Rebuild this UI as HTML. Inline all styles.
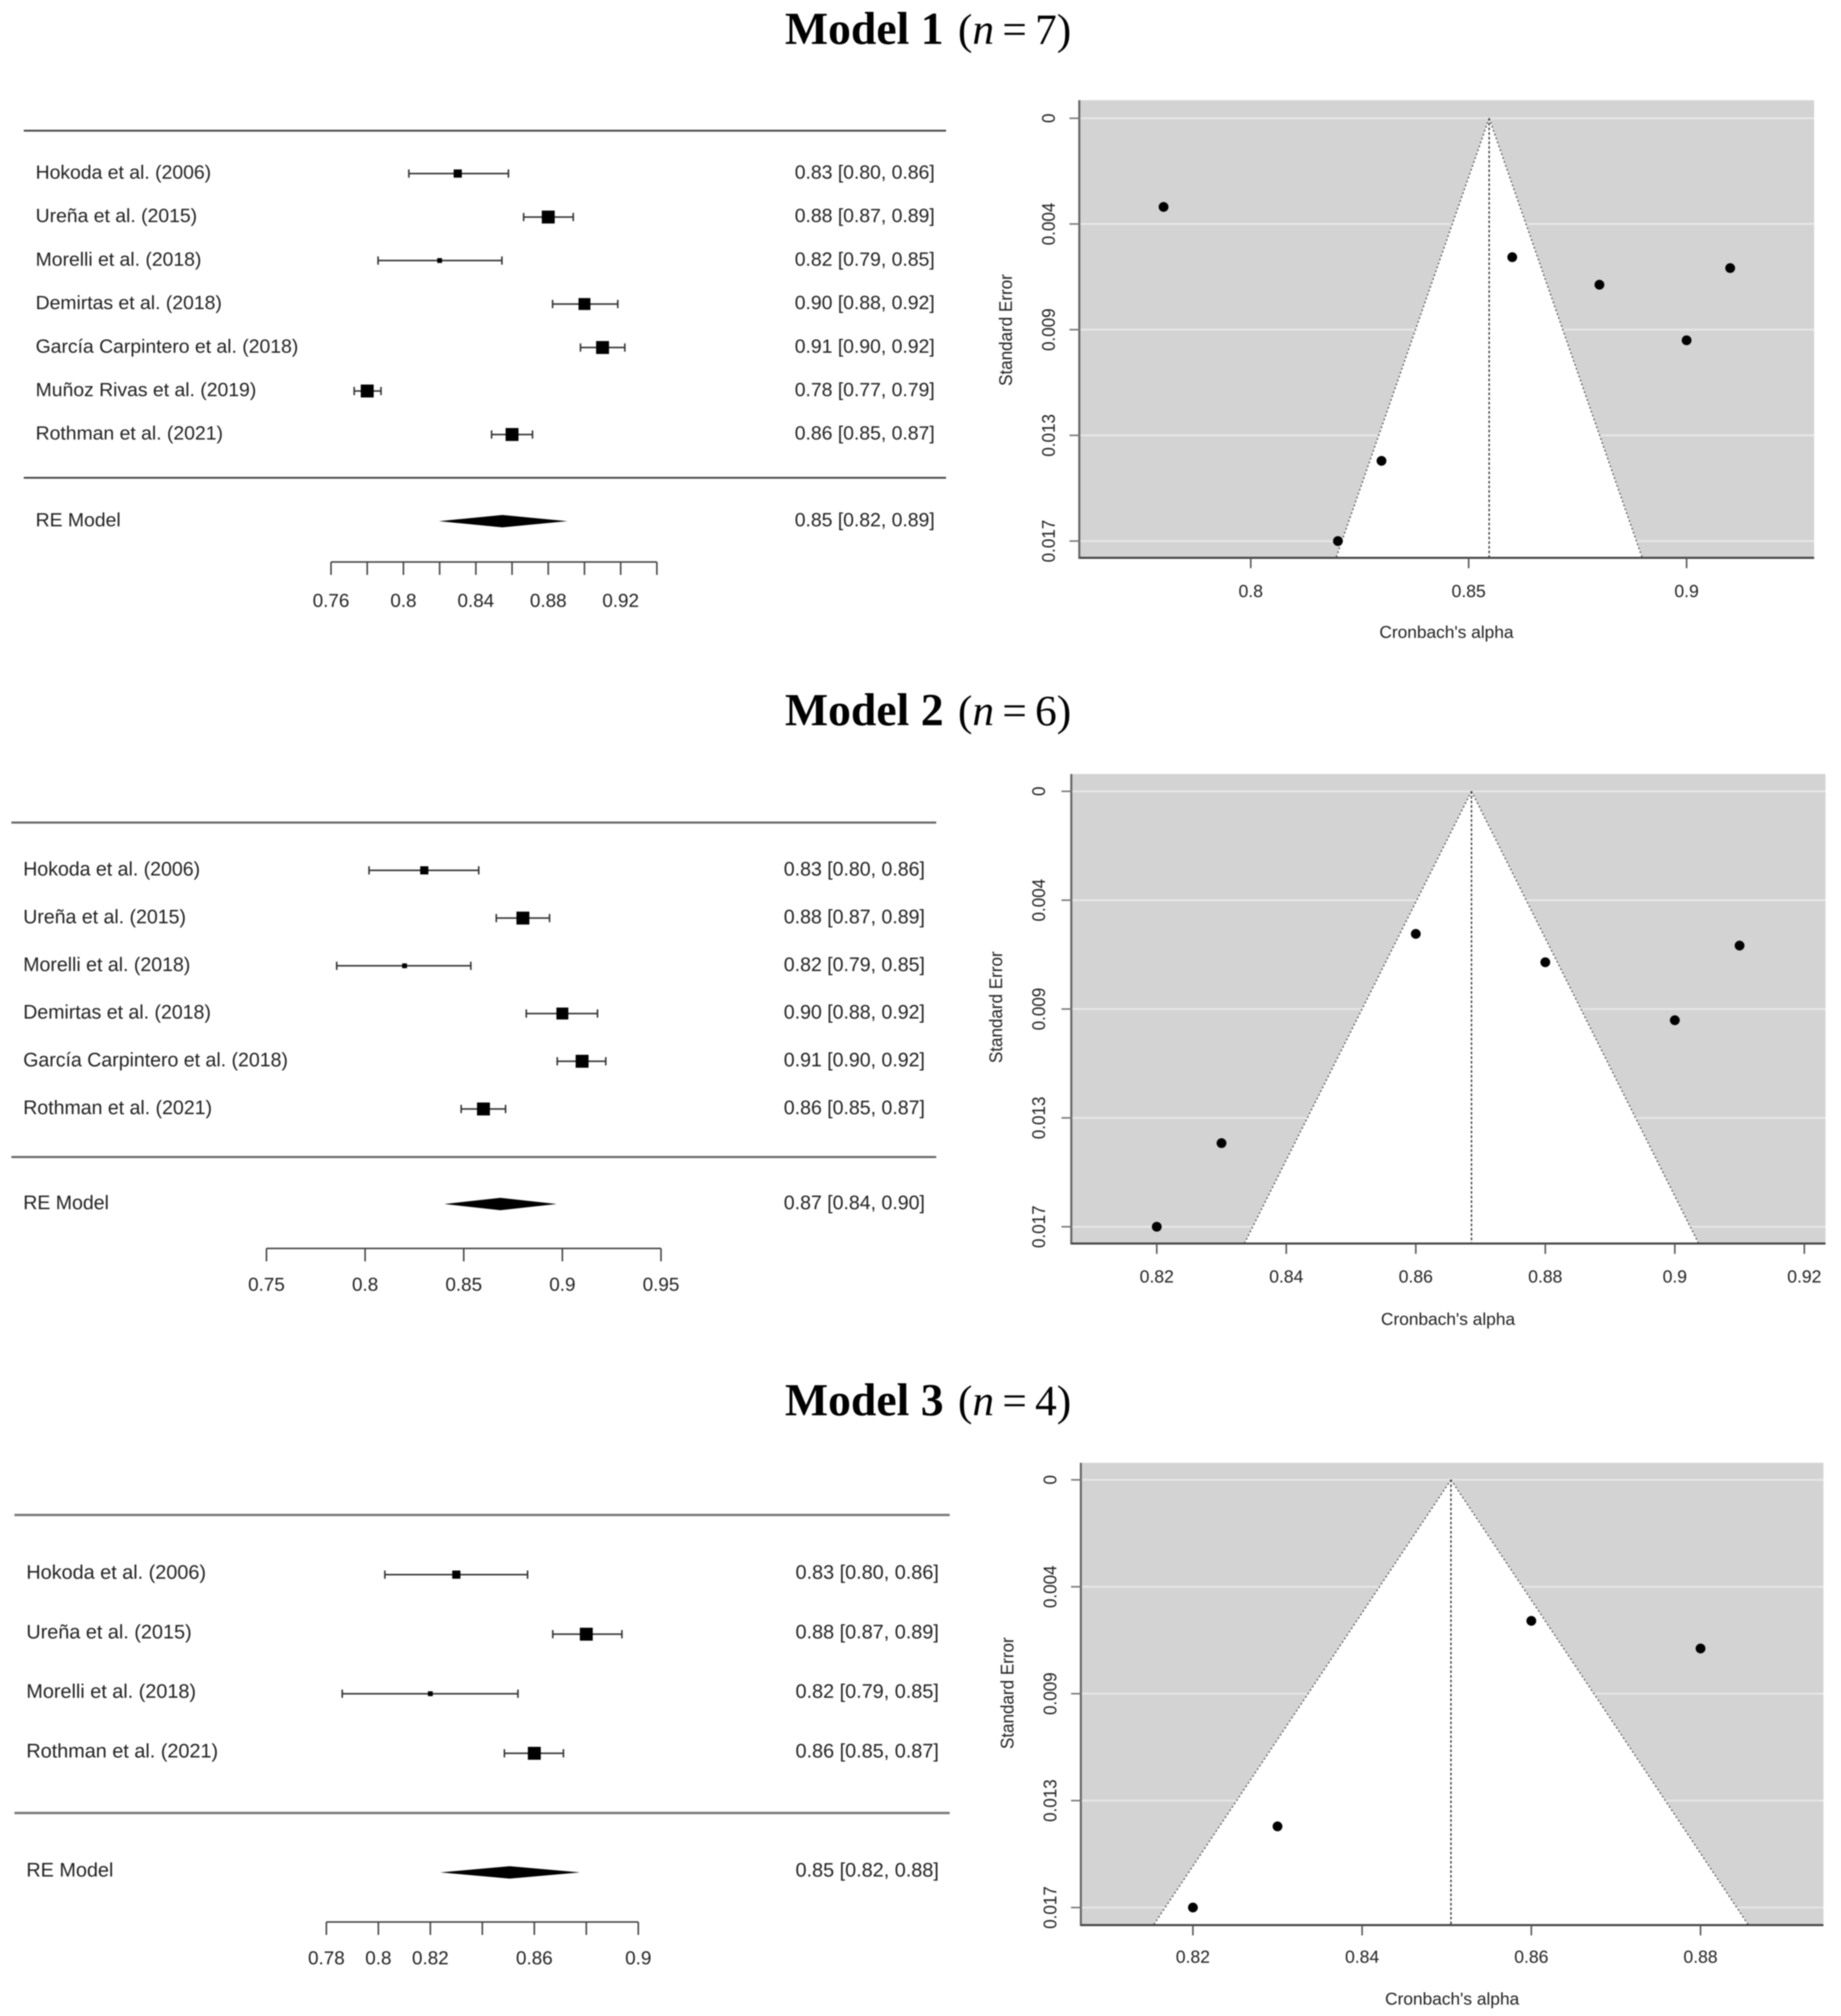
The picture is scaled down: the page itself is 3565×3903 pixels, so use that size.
<!DOCTYPE html>
<html lang="en">
<head>
<meta charset="utf-8">
<title>Forest and funnel plots for Models 1 to 3</title>
<style>
  html, body { margin: 0; padding: 0; background: #fff; }
  #figure { display: block; width: 3565px; height: 3903px; filter: blur(1px); }
  text { font-family: "Liberation Sans", sans-serif; fill: #222; }
  .model-title { font-family: "Liberation Serif", serif; fill: #000; font-size: 84px; word-spacing: -5px; }
  .model-title .bold { font-weight: bold; font-size: 88.5px; word-spacing: 0; }
  .model-title .ital { font-style: italic; }
</style>
</head>
<body>
<svg id="figure" xmlns="http://www.w3.org/2000/svg" width="3565" height="3903" viewBox="0 0 3565 3903">
  <rect x="0" y="0" width="3565" height="3903" fill="#fff"></rect>
  <text class="model-title" x="1520" y="85"><tspan class="bold">Model 1</tspan><tspan x="1855">(</tspan><tspan class="ital">n</tspan> = 7)</text>
  <text class="model-title" x="1520" y="1404"><tspan class="bold">Model 2</tspan><tspan x="1855">(</tspan><tspan class="ital">n</tspan> = 6)</text>
  <text class="model-title" x="1520" y="2740"><tspan class="bold">Model 3</tspan><tspan x="1855">(</tspan><tspan class="ital">n</tspan> = 4)</text>
</svg>
<script>
/* ---------- Model 1 data ---------- */
const m1Studies = ['Hokoda et al. (2006)', 'Ureña et al. (2015)', 'Morelli et al. (2018)', 'Demirtas et al. (2018)', 'García Carpintero et al. (2018)', 'Muñoz Rivas et al. (2019)', 'Rothman et al. (2021)'];
const m1Estimates = [0.83, 0.88, 0.82, 0.90, 0.91, 0.78, 0.86];
const m1Lower = [0.803, 0.8664, 0.786, 0.8824, 0.8978, 0.7728, 0.8487];
const m1Upper = [0.858, 0.8938, 0.8544, 0.9184, 0.9223, 0.7876, 0.8713];
const m1Weights = [40, 100, 14, 85, 100, 100, 100];
const m1StdErrors = [0.01418, 0.00689, 0.0175, 0.00919, 0.0062, 0.00367, 0.00575];
const m1Pooled = [0.8547, 0.8196, 0.8906];
const m1ForestTicks = [0.76, 0.78, 0.8, 0.82, 0.84, 0.86, 0.88, 0.9, 0.92, 0.94];
const m1ForestTickLabels = ['0.76', '', '0.8', '', '0.84', '', '0.88', '', '0.92', ''];
const m1FunnelXTicks = [0.8, 0.85, 0.9];
const m1FunnelXTickLabels = ['0.8', '0.85', '0.9'];

/* ---------- Model 2 data ---------- */
const m2Studies = ['Hokoda et al. (2006)', 'Ureña et al. (2015)', 'Morelli et al. (2018)', 'Demirtas et al. (2018)', 'García Carpintero et al. (2018)', 'Rothman et al. (2021)'];
const m2Estimates = [0.83, 0.88, 0.82, 0.90, 0.91, 0.86];
const m2Lower = [0.802, 0.8665, 0.7856, 0.8817, 0.8974, 0.8487];
const m2Upper = [0.8576, 0.8935, 0.8536, 0.9178, 0.922, 0.8712];
const m2Weights = [40, 100, 14, 85, 100, 100];
const m2StdErrors = [0.01414, 0.00687, 0.0175, 0.0092, 0.0062, 0.00573];
const m2Pooled = [0.8686, 0.8401, 0.8972];
const m2ForestTicks = [0.75, 0.8, 0.85, 0.9, 0.95];
const m2ForestTickLabels = ['0.75', '0.8', '0.85', '0.9', '0.95'];
const m2FunnelXTicks = [0.82, 0.84, 0.86, 0.88, 0.9, 0.92];
const m2FunnelXTickLabels = ['0.82', '0.84', '0.86', '0.88', '0.9', '0.92'];

/* ---------- Model 3 data ---------- */
const m3Studies = ['Hokoda et al. (2006)', 'Ureña et al. (2015)', 'Morelli et al. (2018)', 'Rothman et al. (2021)'];
const m3Estimates = [0.83, 0.88, 0.82, 0.86];
const m3Lower = [0.8025, 0.8671, 0.7861, 0.8485];
const m3Upper = [0.8574, 0.8937, 0.8537, 0.8712];
const m3Weights = [40, 100, 14, 100];
const m3StdErrors = [0.01418, 0.0069, 0.0175, 0.00577];
const m3Pooled = [0.8505, 0.8238, 0.8776];
const m3ForestTicks = [0.78, 0.8, 0.82, 0.84, 0.86, 0.88, 0.9];
const m3ForestTickLabels = ['0.78', '0.8', '0.82', '', '0.86', '', '0.9'];
const m3FunnelXTicks = [0.82, 0.84, 0.86, 0.88];
const m3FunnelXTickLabels = ['0.82', '0.84', '0.86', '0.88'];

/* ---------- shared funnel y axis ---------- */
const seTicks = [0, 0.004375, 0.00875, 0.013125, 0.0175];
const seTickLabels = ['0', '0.004', '0.009', '0.013', '0.017'];
const funnelZ = [1.93];

const NS = 'http://www.w3.org/2000/svg';
const root = document.getElementById('figure');

function make(tag, attrs, text) {
  const el = document.createElementNS(NS, tag);
  for (const k in attrs) el.setAttribute(k, attrs[k]);
  if (text !== undefined) el.textContent = text;
  root.appendChild(el);
  return el;
}

function drawForest(model, d, g) {
  const sx = v => g.x0 + (v - g.v0) / (g.v1 - g.v0) * (g.x1 - g.x0);
  const fmt = (e, l, u) => e.toFixed(2) + ' [' + l.toFixed(2) + ', ' + u.toFixed(2) + ']';

  const topRule = make('line', { x1: g.ruleL, x2: g.ruleR, y1: g.ruleTop, y2: g.ruleTop, stroke: g.ruleColor, 'stroke-width': g.ruleW });
  
  
  const bottomRule = make('line', { x1: g.ruleL, x2: g.ruleR, y1: g.ruleBottom, y2: g.ruleBottom, stroke: g.ruleColor, 'stroke-width': g.ruleW });
  
  

  d.studies.forEach((name, i) => {
    const y = g.row0 + i * g.rowStep;
    const label = make('text', { x: g.textL, y: y + g.textDy, 'font-size': g.font }, name);
    
    

    const ci = make('line', { x1: sx(d.lower[i]), x2: sx(d.upper[i]), y1: y, y2: y, stroke: '#333', 'stroke-width': 3 });
    
    
    [d.lower[i], d.upper[i]].forEach(v => {
      const cap = make('line', { x1: sx(v), x2: sx(v), y1: y - 8, y2: y + 8, stroke: '#333', 'stroke-width': 3 });
      
      
    });

    const size = 25 * Math.sqrt(d.weights[i] / 100);
    const sq = make('rect', { x: sx(d.estimates[i]) - size / 2, y: y - size / 2, width: size, height: size, fill: '#000' });
    
    

    const val = make('text', { x: g.textR, y: y + g.textDy, 'font-size': g.font, 'text-anchor': 'end' }, fmt(d.estimates[i], d.lower[i], d.upper[i]));
    
    
  });

  const reLabel = make('text', { x: g.textL, y: g.reRow + g.textDy, 'font-size': g.font }, 'RE Model');
  
  
  const cx = sx(d.pooled[0]);
  const dia = make('polygon', { points: [sx(d.pooled[1]) + ',' + g.reRow, cx + ',' + (g.reRow - 12), sx(d.pooled[2]) + ',' + g.reRow, cx + ',' + (g.reRow + 12)].join(' '), fill: '#000' });
  
  
  const reVal = make('text', { x: g.textR, y: g.reRow + g.textDy, 'font-size': g.font, 'text-anchor': 'end' }, fmt(d.pooled[0], d.pooled[1], d.pooled[2]));
  
  

  const axis = make('line', { x1: sx(d.ticks[0]), x2: sx(d.ticks[d.ticks.length - 1]), y1: g.axisY, y2: g.axisY, stroke: '#444', 'stroke-width': 3 });
  
  
  d.ticks.forEach((t, i) => {
    const tick = make('line', { x1: sx(t), x2: sx(t), y1: g.axisY, y2: g.axisY + 25, stroke: '#444', 'stroke-width': 3 });
    
    
    if (d.tickLabels[i]) {
      const tl = make('text', { x: sx(t), y: g.tickLabelY + 13, 'font-size': 36.5, 'text-anchor': 'middle' }, d.tickLabels[i]);
      
      
    }
  });
}

function drawFunnel(model, d, g) {
  const sx = v => g.xRef0 + (v - g.vRef0) / (g.vRef1 - g.vRef0) * (g.xRef1 - g.xRef0);
  const sy = s => g.yRef0 + s / seTicks[seTicks.length - 1] * (g.yRef1 - g.yRef0);
  const seBottom = (g.bottom - g.yRef0) / (g.yRef1 - g.yRef0) * seTicks[seTicks.length - 1];
  const c = d.pooled[0];
  const z = funnelZ[0];
  const apexX = sx(c), apexY = sy(0);
  const leftX = sx(c - z * seBottom), rightX = sx(c + z * seBottom);

  const bg = make('rect', { x: g.left, y: g.top, width: g.right - g.left, height: g.bottom - g.top, fill: '#d3d3d3' });
  
  

  seTicks.forEach(s => {
    const gl = make('line', { x1: g.left, x2: g.right, y1: sy(s), y2: sy(s), stroke: '#e8e8e8', 'stroke-width': 3.5 });
    
    
  });

  const tri = make('polygon', { points: [apexX + ',' + apexY, rightX + ',' + g.bottom, leftX + ',' + g.bottom].join(' '), fill: '#fff' });
  
  

  [leftX, rightX].forEach(xe => {
    const edge = make('line', { x1: apexX, y1: apexY, x2: xe, y2: g.bottom, stroke: '#555', 'stroke-width': 2.6, 'stroke-dasharray': '3 5' });
    
    
  });
  const mid = make('line', { x1: apexX, y1: apexY, x2: apexX, y2: g.bottom, stroke: '#333', 'stroke-width': 2.6, 'stroke-dasharray': '5 4' });
  
  

  d.estimates.forEach((e, i) => {
    const pt = make('circle', { cx: sx(e), cy: sy(d.stdErrors[i]), r: 9.5, fill: '#000' });
    
    
  });

  const yAxis = make('line', { x1: g.left, x2: g.left, y1: g.top, y2: g.bottom + 2, stroke: '#666', 'stroke-width': 4 });
  
  
  const xAxis = make('line', { x1: g.left, x2: g.right, y1: g.bottom, y2: g.bottom, stroke: '#444', 'stroke-width': 4 });
  
  

  seTicks.forEach((s, i) => {
    const tick = make('line', { x1: g.left - 19, x2: g.left, y1: sy(s), y2: sy(s), stroke: '#777', 'stroke-width': 3 });
    
    
    const tl = make('text', { x: 0, y: 11.8, 'font-size': 33, 'text-anchor': 'middle', transform: 'translate(' + g.yLabelX + ',' + sy(s) + ') rotate(-90) scale(1,1.06)' }, seTickLabels[i]);
    
    
  });

  d.xTicks.forEach((t, i) => {
    const tick = make('line', { x1: sx(t), x2: sx(t), y1: g.bottom, y2: g.bottom + 20, stroke: '#555', 'stroke-width': 3 });
    
    
    const tl = make('text', { x: sx(t), y: g.xLabelY + 12, 'font-size': 34, 'text-anchor': 'middle' }, d.xTickLabels[i]);
    
    
  });

  const xTitle = make('text', { x: g.xTitleX, y: g.xTitleY + 12, 'font-size': 33.5, 'text-anchor': 'middle' }, "Cronbach's alpha");
  
  
  const yTitle = make('text', { x: 0, y: 11.8, 'font-size': 33, 'text-anchor': 'middle', transform: 'translate(' + g.yTitleX + ',' + g.yTitleY + ') rotate(-90) scale(1,1.08)' }, 'Standard Error');
  
  
}

drawForest('model-1',
  { studies: m1Studies, estimates: m1Estimates, lower: m1Lower, upper: m1Upper, weights: m1Weights, pooled: m1Pooled, ticks: m1ForestTicks, tickLabels: m1ForestTickLabels },
  { x0: 641, x1: 1272, v0: 0.76, v1: 0.94, ruleL: 46, ruleR: 1832, ruleTop: 253, ruleBottom: 925, ruleColor: '#444', ruleW: 3.5, row0: 336, rowStep: 84.2, reRow: 1009, axisY: 1088, tickLabelY: 1162, textL: 69, textR: 1810, textDy: 10, font: 37.5 });
drawFunnel('model-1',
  { estimates: m1Estimates, stdErrors: m1StdErrors, pooled: m1Pooled, xTicks: m1FunnelXTicks, xTickLabels: m1FunnelXTickLabels },
  { left: 2090, right: 3513, top: 194, bottom: 1080, xRef0: 2422, xRef1: 3266, vRef0: 0.8, vRef1: 0.9, yRef0: 229, yRef1: 1047.5, yLabelX: 2030, yTitleX: 1947, yTitleY: 639, xLabelY: 1144, xTitleX: 2801, xTitleY: 1223 });

drawForest('model-2',
  { studies: m2Studies, estimates: m2Estimates, lower: m2Lower, upper: m2Upper, weights: m2Weights, pooled: m2Pooled, ticks: m2ForestTicks, tickLabels: m2ForestTickLabels },
  { x0: 516, x1: 1280, v0: 0.75, v1: 0.95, ruleL: 22, ruleR: 1813, ruleTop: 1592.5, ruleBottom: 2240, ruleColor: '#666', ruleW: 4, row0: 1685, rowStep: 92.4, reRow: 2331, axisY: 2417, tickLabelY: 2486, textL: 45, textR: 1791, textDy: 10, font: 37.8 });
drawFunnel('model-2',
  { estimates: m2Estimates, stdErrors: m2StdErrors, pooled: m2Pooled, xTicks: m2FunnelXTicks, xTickLabels: m2FunnelXTickLabels },
  { left: 2074.5, right: 3535, top: 1498.5, bottom: 2407.5, xRef0: 2240, xRef1: 3494, vRef0: 0.82, vRef1: 0.92, yRef0: 1532, yRef1: 2375, yLabelX: 2011, yTitleX: 1928, yTitleY: 1950, xLabelY: 2471, xTitleX: 2804, xTitleY: 2553 });

drawForest('model-3',
  { studies: m3Studies, estimates: m3Estimates, lower: m3Lower, upper: m3Upper, weights: m3Weights, pooled: m3Pooled, ticks: m3ForestTicks, tickLabels: m3ForestTickLabels },
  { x0: 632, x1: 1236, v0: 0.78, v1: 0.9, ruleL: 28, ruleR: 1839, ruleTop: 2933, ruleBottom: 3510, ruleColor: '#777', ruleW: 4.5, row0: 3048.5, rowStep: 115.3, reRow: 3625, axisY: 3721, tickLabelY: 3790, textL: 51, textR: 1818, textDy: 8, font: 38.4 });
drawFunnel('model-3',
  { estimates: m3Estimates, stdErrors: m3StdErrors, pooled: m3Pooled, xTicks: m3FunnelXTicks, xTickLabels: m3FunnelXTickLabels },
  { left: 2093, right: 3531, top: 2832, bottom: 3727, xRef0: 2310, xRef1: 3293, vRef0: 0.82, vRef1: 0.88, yRef0: 2865, yRef1: 3693, yLabelX: 2033, yTitleX: 1950, yTitleY: 3278, xLabelY: 3788, xTitleX: 2812, xTitleY: 3869 });
</script>
</body>
</html>
